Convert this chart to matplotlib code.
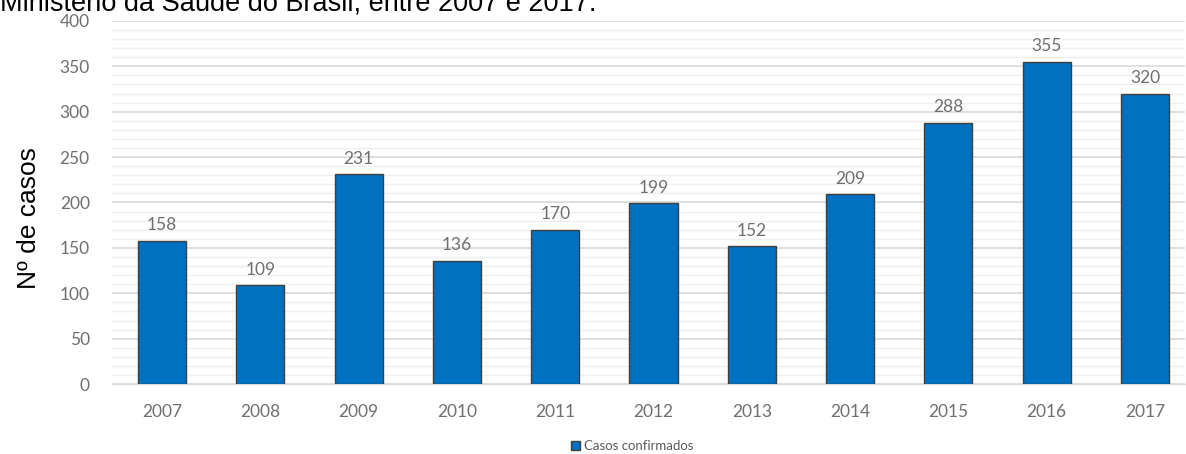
import numpy as np
import matplotlib.pyplot as plt
from matplotlib.ticker import MultipleLocator

years = ["2007", "2008", "2009", "2010", "2011", "2012", "2013", "2014", "2015", "2016", "2017"]
casos = [158, 109, 231, 136, 170, 199, 152, 209, 288, 355, 320]

fig = plt.figure(figsize=(11.86, 4.54), dpi=100)
ax = fig.add_axes([0.0944, 0.154, 0.905, 0.800])

x = np.arange(len(years))
ax.bar(x, casos, width=0.49, color="#0070C0", edgecolor="#404040", linewidth=1.0,
       zorder=3, label="Casos confirmados")

for xi, v in zip(x, casos):
    ax.text(xi, v + 8, str(v), ha="center", va="bottom", fontsize=12.5,
            color="#6f6f6f", family="Lato")

ax.set_ylim(0, 400)
ax.set_xlim(-0.51, 10.41)
ax.yaxis.set_major_locator(MultipleLocator(50))
ax.yaxis.set_minor_locator(MultipleLocator(10))
ax.grid(True, which="major", axis="y", color="#d9d9d9", linewidth=1.2, zorder=0)
ax.grid(True, which="minor", axis="y", color="#efefef", linewidth=1.0, zorder=0)

ax.set_xticks(x)
ax.set_xticklabels(years)
ax.tick_params(axis="both", which="both", length=0, labelsize=12.5, labelcolor="#6f6f6f")
ax.tick_params(axis="x", pad=14)
ax.tick_params(axis="y", pad=16)
for lbl in ax.get_xticklabels() + ax.get_yticklabels():
    lbl.set_family("Lato")

for s in ["top", "right", "left"]:
    ax.spines[s].set_visible(False)
ax.spines["bottom"].set_color("#d9d9d9")

fig.text(0.014, 0.52, "Nº de casos", rotation=90, ha="left", va="center",
         fontsize=19, family="Liberation Sans", color="black")

# title is cropped at the top in the source image
fig.text(0.0, 1.022, "Ministério da Saúde do Brasil, entre 2007 e 2017.", ha="left", va="top",
         fontsize=19.5, family="Liberation Sans", color="black")

fig.legend(loc="center", bbox_to_anchor=(0.533, 0.018), frameon=False,
           handlelength=0.7, handleheight=0.7, handletextpad=0.3,
           labelcolor="#595959", prop={"family": "Lato", "size": 9.5})

fig.savefig("out.png", dpi=100)
